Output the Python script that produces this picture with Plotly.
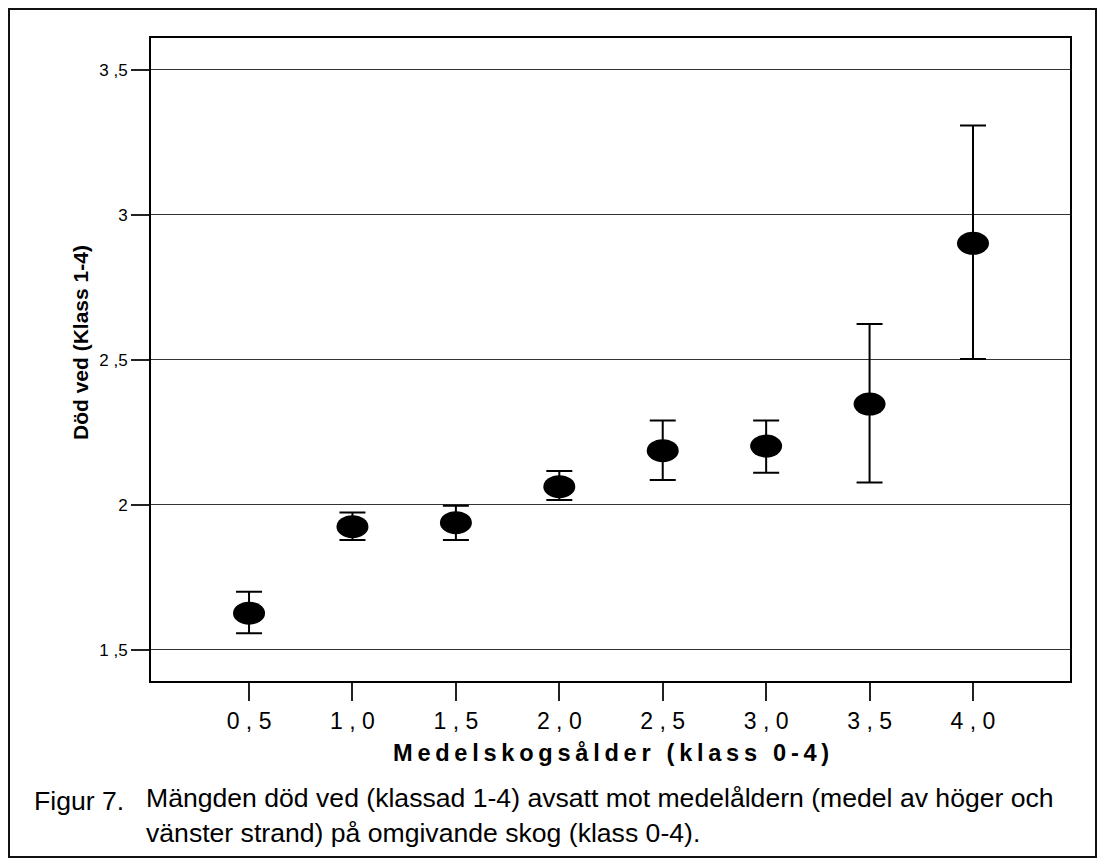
import plotly.graph_objects as go

# ---- data ----
x_vals = [0.5, 1.0, 1.5, 2.0, 2.5, 3.0, 3.5, 4.0]
x_labels = ["0 , 5", "1 , 0", "1 , 5", "2 , 0", "2 , 5", "3 , 0", "3 , 5", "4 , 0"]
means = [1.627, 1.925, 1.939, 2.063, 2.187, 2.203, 2.348, 2.902]
upper = [1.701, 1.974, 1.997, 2.117, 2.291, 2.291, 2.624, 3.308]
lower = [1.558, 1.879, 1.879, 2.017, 2.086, 2.111, 2.077, 2.503]
y_ticks = [1.5, 2.0, 2.5, 3.0, 3.5]
y_labels = ["1 ,5", "2", "2 ,5", "3", "3 ,5"]

TS = "\u2009"
x_title = (TS.join("Medelskogsålder") + TS + "\u00a0" + TS + TS.join("(klass") +
           TS + "\u00a0" + TS + TS.join("0-4)"))
y_title = "Död ved (Klass 1-4)"
caption_label = "Figur 7."
caption_text = ("Mängden död ved (klassad 1-4) avsatt mot medelåldern (medel av höger och<br>"
                "vänster strand) på omgivande skog (klass 0-4).")

FONT = "Liberation Sans, Arial, sans-serif"
OFF = 8  # page body margin
W, H = 1089, 852
# plot area in page coordinates: left 151, right 1070, top 38, bottom 681
L = 151 - OFF
T = 38 - OFF
R = W - (1070 - OFF)
B = H - (681 - OFF)
pw, ph = W - L - R, H - T - B

def px_x(p):
    return (p - OFF - L) / pw

def px_y(p):
    return (H - B - (p - OFF)) / ph

err_plus = [u - m for u, m in zip(upper, means)]
err_minus = [m - l for m, l in zip(means, lower)]

fig = go.Figure()
fig.add_trace(go.Scatter(
    x=x_vals, y=means, mode="markers",
    marker=dict(size=1, color="rgba(0,0,0,0)"),
    error_y=dict(type="data", symmetric=False, array=err_plus, arrayminus=err_minus,
                 width=13, thickness=2, color="black"),
    showlegend=False, hoverinfo="skip",
))

shapes = []
for xv, mv in zip(x_vals, means):
    shapes.append(dict(type="circle", xref="x", yref="y", xsizemode="pixel", ysizemode="pixel",
                       xanchor=xv, yanchor=mv, x0=-16, x1=16, y0=-11.5, y1=11.5,
                       fillcolor="black", line=dict(width=0), layer="above"))
# outer frame
shapes.append(dict(type="rect", xref="paper", yref="paper",
                   x0=px_x(9), x1=px_x(1096), y0=px_y(857), y1=px_y(9),
                   line=dict(color="#111", width=2), fillcolor="rgba(0,0,0,0)", layer="below"))

annotations = [
    dict(text=x_title, xref="paper", yref="paper", x=px_x(611), y=px_y(753),
         xanchor="center", yanchor="middle", showarrow=False,
         font=dict(family=FONT, size=23.6, color="black", weight="bold")),
    dict(text=y_title, xref="paper", yref="paper", x=px_x(80), y=px_y(343),
         xanchor="center", yanchor="middle", showarrow=False, textangle=-90,
         font=dict(family=FONT, size=21, color="black", weight="bold")),
    dict(text=caption_label, xref="paper", yref="paper", x=px_x(32), y=px_y(801),
         xanchor="left", yanchor="middle", showarrow=False,
         font=dict(family=FONT, size=26.6, color="black")),
    dict(text=caption_text, xref="paper", yref="paper", x=px_x(144), y=px_y(815),
         xanchor="left", yanchor="middle", showarrow=False, align="left",
         font=dict(family=FONT, size=26.6, color="black")),
]

fig.update_layout(
    width=W, height=H,
    margin=dict(l=L, r=R, t=T, b=B, pad=0),
    paper_bgcolor="white", plot_bgcolor="white",
    font=dict(family=FONT, color="black"),
    shapes=shapes, annotations=annotations,
    xaxis=dict(range=[0.026, 4.469], tickmode="array", tickvals=x_vals, ticktext=x_labels,
               showgrid=False, zeroline=False, ticks="outside", ticklen=18, tickwidth=1.5,
               tickcolor="#222", showline=True, linecolor="black", linewidth=2, mirror=True,
               tickfont=dict(family=FONT, size=23, color="black")),
    yaxis=dict(range=[1.393, 3.610], tickmode="array", tickvals=y_ticks, ticktext=y_labels,
               showgrid=True, gridcolor="#333", gridwidth=1.3, zeroline=False,
               ticks="outside", ticklen=18, tickwidth=1.5, tickcolor="#222",
               showline=True, linecolor="black", linewidth=2, mirror=True,
               tickfont=dict(family=FONT, size=17, color="black")),
)

fig.write_html("out.html")
